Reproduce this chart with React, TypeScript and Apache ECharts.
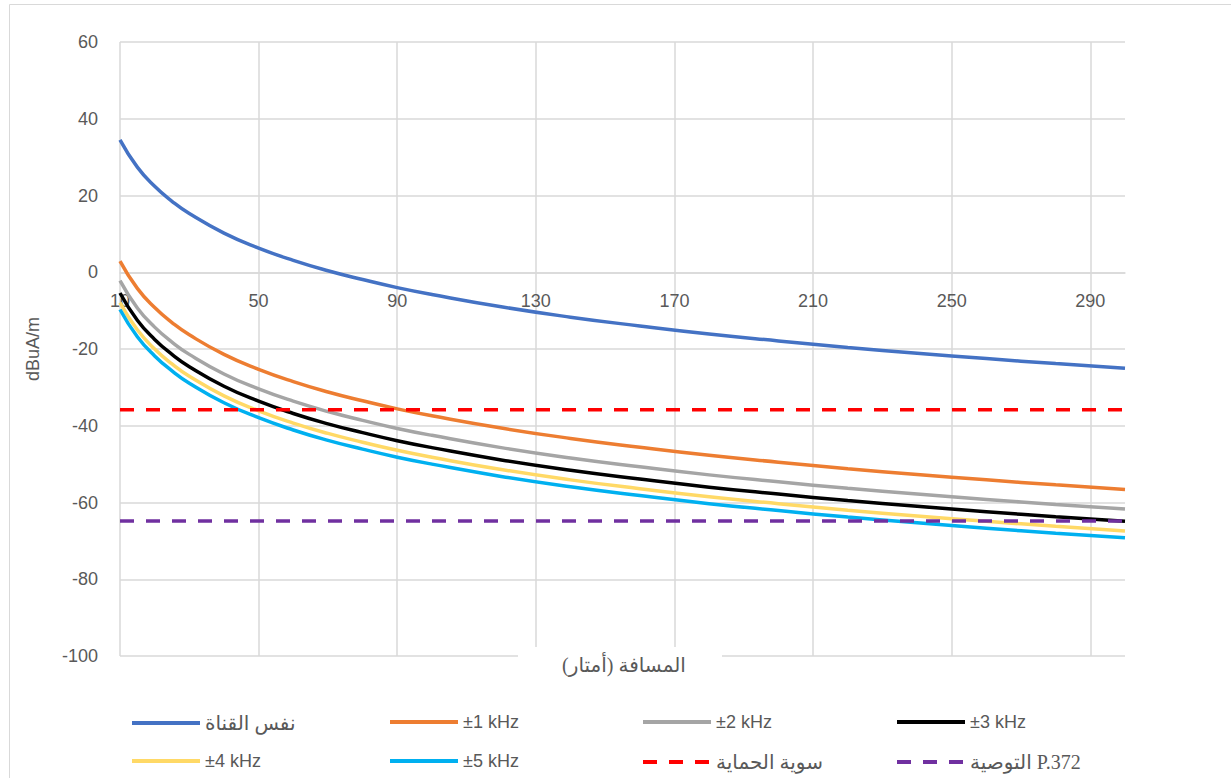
import React, { useEffect, useRef } from "react";
import * as echarts from "echarts";

const distances = [10, 15, 20, 25, 30, 40, 50, 60, 70, 80, 90, 100, 120, 140, 160, 180, 200, 220, 240, 260, 280, 300];
const sameChannel = [34.5, 27.4, 22.4, 18.5, 15.3, 10.2, 6.3, 3.1, 0.4, -1.9, -4.0, -5.8, -9.0, -11.7, -14.0, -16.1, -17.9, -19.6, -21.1, -22.5, -23.8, -25.0];
const khz1 = [2.9, -4.2, -9.2, -13.1, -16.3, -21.4, -25.3, -28.5, -31.2, -33.5, -35.6, -37.4, -40.6, -43.3, -45.6, -47.7, -49.5, -51.2, -52.7, -54.1, -55.4, -56.6];
const khz2 = [-2.2, -9.3, -14.3, -18.2, -21.4, -26.5, -30.4, -33.6, -36.3, -38.6, -40.7, -42.5, -45.7, -48.4, -50.7, -52.8, -54.6, -56.3, -57.8, -59.2, -60.5, -61.7];
const khz3 = [-5.4, -12.5, -17.5, -21.4, -24.6, -29.7, -33.6, -36.8, -39.5, -41.8, -43.9, -45.7, -48.9, -51.6, -53.9, -56.0, -57.8, -59.5, -61.0, -62.4, -63.7, -64.9];
const khz4 = [-7.9, -15.0, -20.0, -23.9, -27.1, -32.2, -36.1, -39.3, -42.0, -44.3, -46.4, -48.2, -51.4, -54.1, -56.4, -58.5, -60.3, -62.0, -63.5, -64.9, -66.2, -67.4];
const khz5 = [-9.7, -16.8, -21.8, -25.7, -28.9, -34.0, -37.9, -41.1, -43.8, -46.1, -48.2, -50.0, -53.2, -55.9, -58.2, -60.3, -62.1, -63.8, -65.3, -66.7, -68.0, -69.2];
const protectionLevel = -35.8;
const p372Level = -64.8;
const levelX = [10, 300];

const names = ["نفس القناة", "±1 kHz", "±2 kHz", "±3 kHz", "±4 kHz", "±5 kHz", "سوية الحماية", "التوصية P.372"];
const colors = ["#4472C4", "#ED7D31", "#A5A5A5", "#000000", "#FFD966", "#00B0F0", "#FF0000", "#7030A0"];
const curves = [sameChannel, khz1, khz2, khz3, khz4, khz5];

const xTitle = "المسافة (أمتار)";
const yTitle = "dBuA/m";

const LATIN = "'Liberation Sans', Arial, sans-serif";
const ARABIC = "'Liberation Serif', 'DejaVu Sans', serif";

export default function App() {
  const ref = useRef<HTMLDivElement>(null);
  useEffect(() => {
    if (!ref.current) return;
    const chart = echarts.init(ref.current, undefined, { renderer: "svg" });
    const series: any[] = curves.map((vals, i) => ({
      name: names[i],
      type: "line",
      smooth: true,
      symbol: "none",
      data: distances.map((d, j) => [d, vals[j]]),
      lineStyle: { width: 3.5, color: colors[i] },
      itemStyle: { color: colors[i] },
      z: 3,
    }));
    [protectionLevel, p372Level].forEach((lvl, k) => {
      const i = 6 + k;
      series.push({
        name: names[i],
        type: "line",
        symbol: "none",
        data: levelX.map((x) => [x, lvl]),
        lineStyle: { width: 3.5, color: colors[i], type: [14, 12] },
        itemStyle: { color: colors[i] },
        z: 4,
      });
    });
    const colLeft = [125, 383, 636, 890];
    const legends = names.map((n, i) => ({
      data: [n],
      left: colLeft[i % 4],
      top: i < 4 ? 708 : 747,
      itemWidth: 68,
      itemHeight: 14,
      itemGap: 0,
      itemStyle: { color: "rgba(0,0,0,0)", borderWidth: 0, opacity: 0 },
      lineStyle: { width: 4 },
      textStyle: {
        fontSize: /kHz/.test(n) ? 18 : 20,
        color: "#595959",
        fontFamily: /kHz/.test(n) ? LATIN : ARABIC,
      },
      selectedMode: false,
    }));
    chart.setOption({
      animation: false,
      backgroundColor: "#ffffff",
      grid: { left: 120, right: 106, top: 42, bottom: 122 },
      xAxis: {
        type: "value",
        min: 10,
        max: 300,
        interval: 40,
        position: "bottom",
        offset: -383.75,
        axisLine: { onZero: false, lineStyle: { color: "#d9d9d9", width: 1.5 } },
        axisTick: { show: false },
        axisLabel: { showMaxLabel: false, fontSize: 18, color: "#595959", margin: 20, fontFamily: LATIN },
        splitLine: { show: true, showMaxLine: false, lineStyle: { color: "#d9d9d9", width: 1.5 } },
      },
      yAxis: {
        type: "value",
        min: -100,
        max: 60,
        interval: 20,
        axisLine: { show: false },
        axisTick: { show: false },
        axisLabel: { fontSize: 18, color: "#595959", margin: 22, fontFamily: LATIN },
        splitLine: { show: true, lineStyle: { color: "#d9d9d9", width: 1.5 } },
        name: yTitle,
        nameLocation: "middle",
        nameGap: 78,
        nameRotate: 90,
        nameTextStyle: { fontSize: 18, color: "#595959", fontFamily: LATIN },
      },
      legend: legends,
      series,
      graphic: [
        {
          type: "rect",
          z: 100,
          shape: { x: 9.5, y: 4.5, width: 1240, height: 800 },
          style: { fill: "none", stroke: "#d9d9d9", lineWidth: 1 },
          silent: true,
        },
        {
          type: "rect",
          z: 100,
          shape: { x: 518, y: 647, width: 204, height: 44 },
          style: { fill: "#ffffff" },
          silent: true,
        },
        {
          type: "text",
          z: 101,
          x: 624,
          y: 665,
          style: {
            text: xTitle,
            fontSize: 20,
            fill: "#595959",
            fontFamily: ARABIC,
            align: "center",
            verticalAlign: "middle",
          },
          silent: true,
        },
      ],
    });
    return () => chart.dispose();
  }, []);
  return (
    <div
      ref={ref}
      style={{ position: "fixed", left: 0, top: 0, width: 1231, height: 778 }}
    />
  );
}
